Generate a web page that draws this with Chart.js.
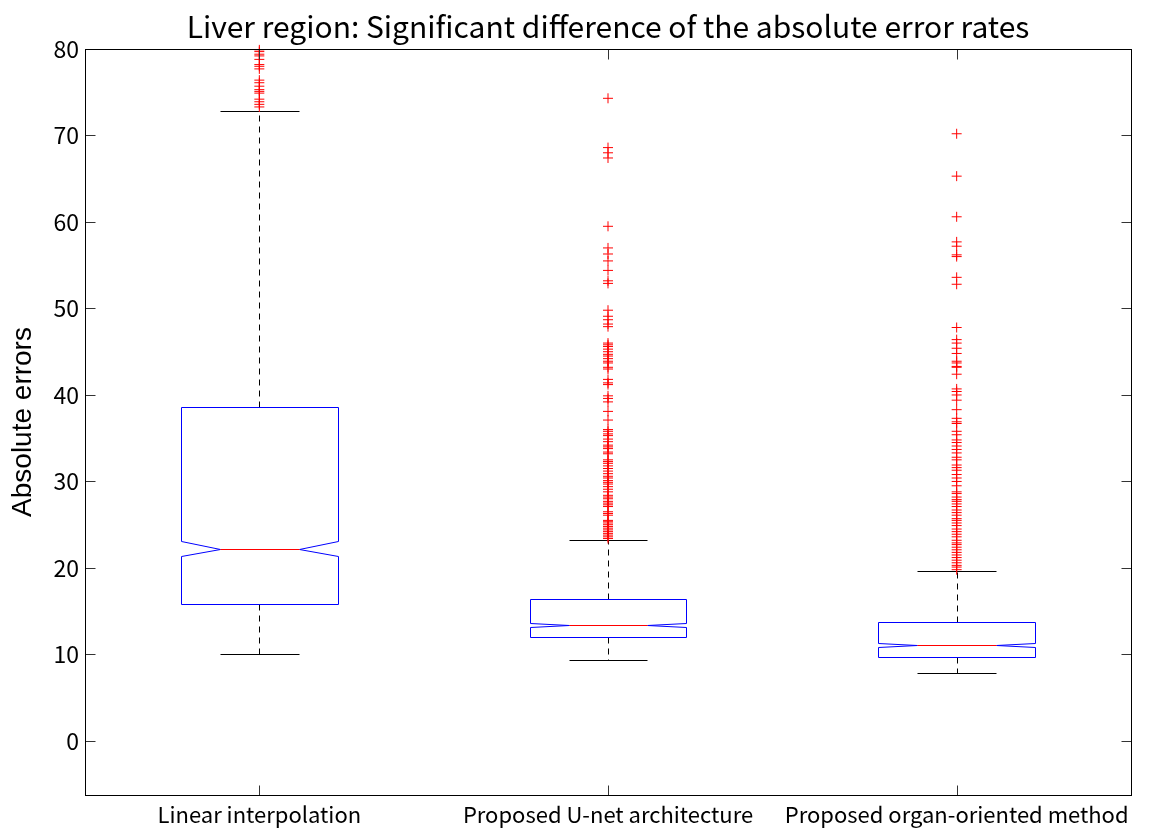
<!DOCTYPE html>
<html>
<head>
<meta charset="utf-8">
<title>Liver region boxplot</title>
<script src="https://cdn.jsdelivr.net/npm/chart.js@4.4.1/dist/chart.umd.min.js"></script>
<style>
  html, body { margin: 0; padding: 0; background: #fff; }
  canvas { display: block; }
</style>
</head>
<body>
<canvas id="myChart" width="1151" height="830"></canvas>
<script>
// box statistics (absolute errors)
var categories = ['Linear interpolation', 'Proposed U-net architecture', 'Proposed organ-oriented method'];
var yTicks = [0, 10, 20, 30, 40, 50, 60, 70, 80];
var lowerWhisker = [10.0, 9.4, 7.8];
var q1 = [15.8, 12.0, 9.7];
var notchLow = [21.4, 13.2, 10.9];
var median = [22.2, 13.4, 11.1];
var notchHigh = [23.1, 13.6, 11.3];
var q3 = [38.65, 16.4, 13.7];
var upperWhisker = [72.8, 23.2, 19.7];

var outliers1 = [79.9, 79.7, 79.4, 79.2, 78.8, 78.2, 78.0, 77.7, 76.4, 76.1, 75.7, 75.3,
    75.1, 74.9, 74.2, 73.9, 73.6, 73.3];
var outliers2 = [74.3, 68.6, 68.0, 67.4, 59.5, 57.0, 56.3, 55.5, 54.4, 53.2, 52.9, 49.8,
    49.1, 48.7, 48.2, 47.9, 46.0, 45.8, 45.6, 45.3, 45.0, 44.7, 44.5, 44.2, 43.9, 43.7,
    43.2, 43.0, 41.8, 41.4, 41.2, 39.9, 39.6, 39.2, 38.1, 37.1, 36.0, 35.8, 35.5, 35.3,
    34.9, 34.6, 34.2, 34.0, 33.8, 33.4, 33.2, 32.5, 32.3, 32.1, 31.8, 31.5, 31.2, 30.9,
    30.6, 30.4, 30.1, 29.9, 29.7, 29.4, 29.1, 28.8, 28.4, 28.2, 28.0, 27.7, 27.5, 27.3,
    27.1, 26.5, 26.3, 26.1, 25.5, 25.4, 25.2, 25.0, 24.8, 24.6, 24.4, 24.2, 24.0, 23.8,
    23.6, 23.4];
var outliers3 = [70.2, 65.3, 60.6, 57.7, 57.2, 56.2, 56.0, 53.6, 52.8, 47.8, 46.4, 46.0,
    45.4, 44.8, 43.9, 43.7, 43.3, 43.2, 42.4, 40.7, 40.4, 40.0, 39.4, 38.3, 37.3, 36.9,
    36.7, 35.8, 35.4, 34.8, 34.5, 34.1, 33.7, 33.3, 32.8, 32.5, 31.9, 31.6, 31.3, 30.8,
    30.4, 30.0, 29.5, 28.8, 28.6, 28.2, 27.9, 27.7, 27.4, 27.1, 26.7, 26.4, 26.1, 25.7,
    25.5, 25.2, 24.9, 24.5, 24.2, 23.9, 23.6, 23.2, 22.9, 22.7, 22.4, 22.1, 21.8, 21.5,
    21.2, 20.9, 20.6, 20.3, 20.1, 19.8];

var boxHalf = 0.225;   // half box width in x units
var tickLen = 10;

function crisp(v) { return Math.round(v) + 0.5; }

// notched boxes + whiskers, drawn through the chart scales
var notchedBoxes = {
    id: 'notchedBoxes',
    beforeDatasetsDraw(chart) {
        var ctx = chart.ctx, x = chart.scales.x, y = chart.scales.y;
        ctx.save();
        ctx.lineWidth = 1;
        categories.forEach(function (c, i) {
            var cx = i + 1;
            var L = crisp(x.getPixelForValue(cx - boxHalf));
            var R = crisp(x.getPixelForValue(cx + boxHalf));
            var nL = crisp(x.getPixelForValue(cx - boxHalf / 2));
            var nR = crisp(x.getPixelForValue(cx + boxHalf / 2));
            var px = crisp(x.getPixelForValue(cx));
            var yQ1 = crisp(y.getPixelForValue(q1[i]));
            var yQ3 = crisp(y.getPixelForValue(q3[i]));
            var yMed = crisp(y.getPixelForValue(median[i]));
            var yNl = crisp(y.getPixelForValue(notchLow[i]));
            var yNh = crisp(y.getPixelForValue(notchHigh[i]));
            var yWl = crisp(y.getPixelForValue(lowerWhisker[i]));
            var yWh = crisp(y.getPixelForValue(upperWhisker[i]));

            // whiskers (dashed)
            ctx.strokeStyle = '#000';
            ctx.setLineDash([6, 5]);
            ctx.beginPath();
            ctx.moveTo(px, yQ3); ctx.lineTo(px, yWh);
            ctx.moveTo(px, yQ1); ctx.lineTo(px, yWl);
            ctx.stroke();
            ctx.setLineDash([]);
            // caps
            ctx.beginPath();
            ctx.moveTo(nL, yWh); ctx.lineTo(nR, yWh);
            ctx.moveTo(nL, yWl); ctx.lineTo(nR, yWl);
            ctx.stroke();

            // box outline with notch
            ctx.strokeStyle = '#0000ff';
            ctx.beginPath();
            ctx.moveTo(L, yQ3);
            ctx.lineTo(L, yNh);
            ctx.lineTo(nL, yMed);
            ctx.lineTo(L, yNl);
            ctx.lineTo(L, yQ1);
            ctx.lineTo(R, yQ1);
            ctx.lineTo(R, yNl);
            ctx.lineTo(nR, yMed);
            ctx.lineTo(R, yNh);
            ctx.lineTo(R, yQ3);
            ctx.closePath();
            ctx.stroke();

            // median
            ctx.strokeStyle = '#ff0000';
            ctx.beginPath();
            ctx.moveTo(nL, yMed); ctx.lineTo(nR, yMed);
            ctx.stroke();
        });
        ctx.restore();
    },
    afterDraw(chart) {
        // frame and inward ticks on all four sides
        var ctx = chart.ctx, a = chart.chartArea, x = chart.scales.x, y = chart.scales.y;
        var l = crisp(a.left), r = crisp(a.right), t = crisp(a.top), b = crisp(a.bottom);
        ctx.save();
        ctx.lineWidth = 1;
        ctx.strokeStyle = '#333';
        ctx.beginPath();
        y.ticks.forEach(function (tk) {
            var py = crisp(y.getPixelForValue(tk.value));
            ctx.moveTo(l, py); ctx.lineTo(l + tickLen, py);
            ctx.moveTo(r, py); ctx.lineTo(r - tickLen, py);
        });
        x.ticks.forEach(function (tk) {
            var px = crisp(x.getPixelForValue(tk.value));
            ctx.moveTo(px, b); ctx.lineTo(px, b - tickLen);
            ctx.moveTo(px, t); ctx.lineTo(px, t + tickLen);
        });
        ctx.stroke();
        ctx.strokeStyle = '#000';
        ctx.strokeRect(l, t, r - l, b - t);
        ctx.restore();
    }
};

function toPoints(arr, cx) {
    return arr.map(function (v) { return { x: cx, y: v }; });
}

Chart.defaults.font.family = '"Noto Sans CJK JP", "Noto Sans", sans-serif';
Chart.defaults.color = '#000';

var ctx = document.getElementById('myChart').getContext('2d');
var myChart = new Chart(ctx, {
    type: 'scatter',
    data: {
        datasets: [outliers1, outliers2, outliers3].map(function (arr, i) {
            return {
                label: categories[i] + ' outliers',
                data: toPoints(arr, i + 1),
                pointStyle: 'cross',
                pointRadius: 5,
                pointBorderWidth: 1,
                borderColor: '#ff0000',
                backgroundColor: '#ff0000',
                clip: false
            };
        })
    },
    options: {
        responsive: false,
        animation: false,
        devicePixelRatio: 1,
        layout: { padding: { left: 0, right: 20, top: 0, bottom: 0 } },
        plugins: {
            legend: { display: false },
            tooltip: { enabled: false },
            title: {
                display: true,
                fullSize: false,
                text: 'Liver region: Significant difference of the absolute error rates',
                color: '#000',
                font: { size: 30, weight: 'normal', lineHeight: 1 },
                padding: { top: 12, bottom: 7 }
            }
        },
        scales: {
            x: {
                type: 'linear',
                min: 0.5,
                max: 3.5,
                grid: { display: false, drawTicks: false },
                border: { display: false },
                afterBuildTicks: function (scale) {
                    scale.ticks = categories.map(function (c, i) { return { value: i + 1 }; });
                },
                afterFit: function (scale) {
                    scale.height = 35;
                    scale.paddingLeft = 0;
                    scale.paddingRight = 0;
                },
                ticks: {
                    autoSkip: false,
                    maxRotation: 0,
                    padding: 6,
                    font: { size: 22 },
                    callback: function (v) { return categories[v - 1]; }
                }
            },
            y: {
                type: 'linear',
                min: -6.25,
                max: 80,
                grid: { display: false, drawTicks: false },
                border: { display: false },
                afterBuildTicks: function (scale) {
                    scale.ticks = yTicks.map(function (v) { return { value: v }; });
                },
                afterFit: function (scale) {
                    scale.width = 85;
                    scale.paddingTop = 0;
                    scale.paddingBottom = 0;
                },
                ticks: {
                    padding: 6,
                    font: { size: 23 }
                },
                title: {
                    display: true,
                    text: 'Absolute errors',
                    font: { family: '"Liberation Sans", Arial, sans-serif', size: 28 },
                    padding: { top: 6, bottom: 0 }
                }
            }
        }
    },
    plugins: [notchedBoxes]
});
</script>
</body>
</html>
